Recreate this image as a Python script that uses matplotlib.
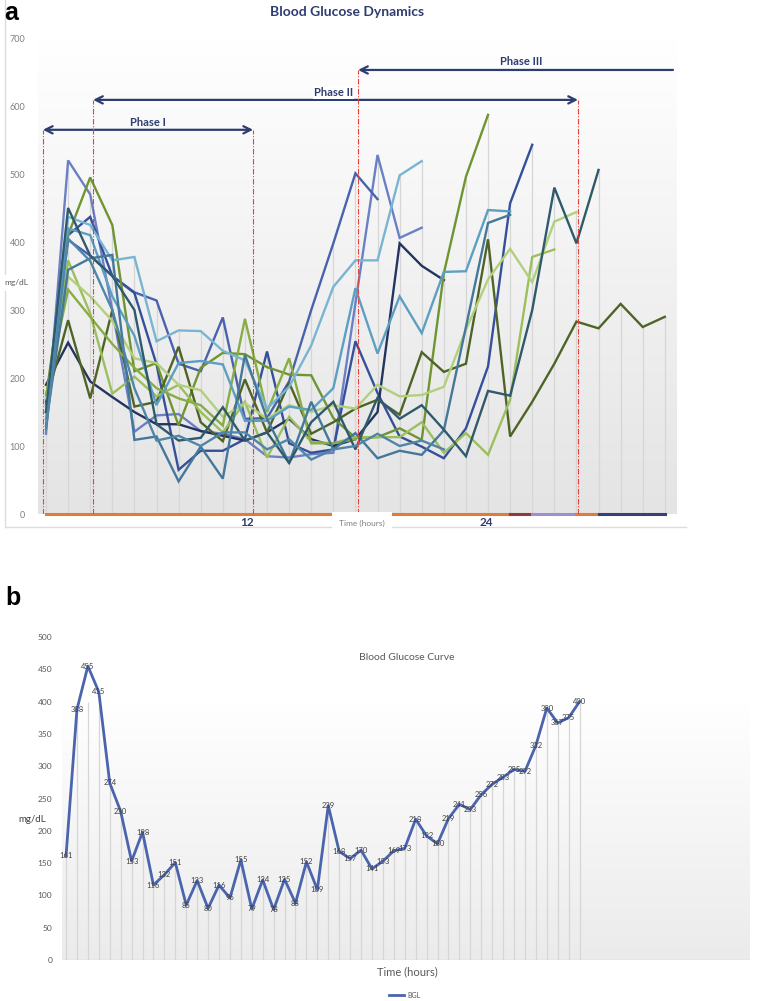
#Blood glucose figure: panel a = many patients, panel b = single curve
import numpy as np
import matplotlib.pyplot as plt
from matplotlib.colors import LinearSegmentedColormap
from matplotlib.lines import Line2D

plt.rcParams['font.family'] = ['Lato', 'DejaVu Sans']

#panel a data (hourly readings, mg/dL), one list per patient
periwinkle = [118, 520, 470, 300, 121, 145, 147, 122, 118, 110, 85, 83, 88, 90, 310, 528, 406, 421]
blue = [160, 403, 380, 350, 326, 314, 221, 210, 289, 140, 141, 195, 300, 398, 501, 463]
royal = [150, 410, 437, 350, 325, 220, 65, 93, 93, 110, 239, 104, 90, 95, 254, 178, 114, 99, 82, 126, 217, 457, 543]
navy = [190, 252, 195, 172, 150, 132, 132, 122, 115, 108, 120, 140, 110, 100, 110, 150, 398, 365, 344]
olive = [170, 410, 495, 425, 210, 222, 130, 215, 237, 235, 216, 205, 204, 141, 112, 113, 126, 109, 354, 496, 587]
darkolive = [165, 285, 170, 300, 158, 165, 246, 135, 107, 198, 120, 193, 118, 135, 155, 168, 146, 238, 209, 221,
             404, 114, 165, 221, 283, 273, 309, 275, 290]
lightgreen = [150, 373, 295, 177, 202, 173, 190, 150, 120, 165, 83, 143, 106, 104, 113, 113, 113, 135, 90, 119,
              87, 168, 378, 389]
lime = [170, 349, 320, 284, 229, 222, 190, 182, 143, 163, 140, 160, 150, 160, 155, 190, 173, 175, 187, 271,
        345, 390, 341, 430, 444]
yellowgreen = [175, 330, 290, 250, 215, 185, 170, 160, 130, 287, 150, 229, 104, 104, 110]
lightblue = [150, 437, 425, 373, 378, 254, 270, 269, 240, 226, 155, 187, 248, 334, 373, 373, 498, 519]
skyblue = [140, 420, 410, 320, 262, 160, 222, 225, 220, 137, 137, 158, 153, 185, 332, 236, 320, 266, 356, 357, 447, 445]
steel = [130, 359, 376, 381, 109, 114, 48, 99, 52, 234, 140, 75, 165, 95, 119, 82, 93, 87, 123, 275, 428, 440]
teal = [150, 450, 380, 350, 300, 132, 108, 112, 157, 108, 120, 75, 135, 165, 95, 171, 140, 160, 124, 85,
        181, 174, 300, 480, 398, 506]
denim = [125, 405, 372, 300, 185, 108, 115, 100, 120, 120, 95, 110, 80, 95, 100, 118, 100, 108, 95]

series_a = [(periwinkle, '#6b80c4'), (blue, '#4862ad'), (royal, '#34509a'), (navy, '#23345f'),
            (olive, '#6f9432'), (darkolive, '#4e6426'), (lightgreen, '#9cbf5e'), (lime, '#b2cf7c'),
            (yellowgreen, '#88ad45'), (lightblue, '#78b5d2'), (skyblue, '#5c9fc2'), (steel, '#44789a'),
            (teal, '#2f5a6c'), (denim, '#4f86a8')]
n_hours = 29
hour_labels = ['12', '24']

#panel b data
bgl = [161, 388, 455, 415, 274, 230, 153, 198, 116, 132, 151, 85, 123, 80, 116, 96, 155, 79, 124, 78,
       125, 88, 152, 109, 239, 168, 157, 170, 141, 153, 169, 173, 218, 192, 180, 219, 241, 233, 256, 272,
       283, 295, 292, 332, 390, 367, 375, 400]

W, H = 761, 1001
def fx(px):
    return px / W
def fy(py):
    return 1 - py / H

fig = plt.figure(figsize=(W / 100, H / 100), dpi=100)

#---------------- panel a ----------------
axa = fig.add_axes([fx(38), fy(514), (677 - 38) / W, (514 - 38) / H])
xlo, xhi = -0.362, 28.55
axa.set_xlim(xlo, xhi)
axa.set_ylim(0, 700)

grad = LinearSegmentedColormap.from_list('g', ['#e4e4e4', '#ffffff'])
axa.imshow(np.linspace(0, 1, 256).reshape(-1, 1), extent=[xlo, xhi, 0, 700], origin='lower',
           aspect='auto', cmap=grad, zorder=0)

hours = np.arange(n_hours)
table = np.full((len(series_a), n_hours), np.nan)
for k, (vals, col) in enumerate(series_a):
    table[k, :len(vals)] = vals
tops = np.nanmax(table, axis=0)
axa.vlines(hours, 0, tops, colors='#d6d6d6', lw=0.9, zorder=1)

for k, (vals, col) in enumerate(series_a):
    axa.plot(hours, table[k], color=col, lw=1.7, zorder=3, solid_joinstyle='miter')

#flat series at zero along the axis
zero_parts = [(0, 21, '#e07b39'), (21, 22, '#8e3b3b'), (22, 24, '#9d8fd0'), (24, 25, '#e07b39'), (25, 28, '#3b3f78')]
for a, b, col in zero_parts:
    axa.plot([a, b], [0, 0], color=col, lw=2.2, zorder=4, clip_on=False)

#phase markers
red = '#e8413c'
arrow_col = '#2e3d70'
phase_lines = [(-0.14, 565), (2.13, 609), (9.37, 565), (14.12, 653), (24.07, 609)]
for x, top in phase_lines:
    axa.plot([x, x], [0, top], color=red, lw=0.8, ls=(0, (5, 1.5, 1, 1.5)), zorder=5)

axa.annotate('', xy=(9.37, 565), xytext=(-0.14, 565),
             arrowprops=dict(arrowstyle='<->', color=arrow_col, lw=1.6, shrinkA=0, shrinkB=0, mutation_scale=13))
axa.annotate('', xy=(24.07, 609), xytext=(2.13, 609),
             arrowprops=dict(arrowstyle='<->', color=arrow_col, lw=1.6, shrinkA=0, shrinkB=0, mutation_scale=13))
axa.annotate('', xy=(14.12, 653), xytext=(28.37, 653),
             arrowprops=dict(arrowstyle='->', color=arrow_col, lw=1.6, shrinkA=0, shrinkB=0, mutation_scale=13))
axa.text(4.6, 576, 'Phase I', ha='center', va='center', fontsize=8, fontweight='bold', color=arrow_col, zorder=6)
axa.text(13.0, 620, 'Phase II', ha='center', va='center', fontsize=8, fontweight='bold', color=arrow_col, zorder=6,
         bbox=dict(facecolor='white', edgecolor='none', pad=0.5))
axa.text(21.5, 665, 'Phase III', ha='center', va='center', fontsize=8, fontweight='bold', color=arrow_col, zorder=6)

axa.set_yticks(range(0, 701, 100))
axa.tick_params(axis='y', length=0, pad=9, labelsize=6.5, labelcolor='#7f7f7f')
axa.set_xticks([])
for s in axa.spines.values():
    s.set_visible(False)

for lab, px in zip(hour_labels, [247, 486]):
    fig.text(fx(px), fy(523), lab, ha='center', va='center', fontsize=8.5, fontweight='bold', color='#2e3d70')

fig.add_artist(Line2D([fx(5), fx(5)], [fy(0), fy(527)], color='#dcdcdc', lw=1))
fig.add_artist(Line2D([fx(5), fx(686)], [fy(527), fy(527)], color='#dcdcdc', lw=1))
fig.text(fx(362), fy(523), 'Time (hours)', ha='center', va='center', fontsize=6, color='#7f7f7f', zorder=5,
         bbox=dict(facecolor='white', edgecolor='none', pad=5))
fig.text(fx(16), fy(283), 'mg/dL', ha='center', va='center', fontsize=6, color='#595959',
         bbox=dict(facecolor='white', edgecolor='none', pad=3))
fig.text(fx(347), fy(12), 'Blood Glucose Dynamics', ha='center', va='center', fontsize=10, fontweight='bold',
         color='#2e3d70')
fig.text(fx(4), fy(13), 'a', ha='left', va='center', fontsize=18, fontweight='bold',
         family=['Liberation Sans', 'DejaVu Sans'])

#---------------- panel b ----------------
axb = fig.add_axes([fx(62), fy(960), (750 - 62) / W, (960 - 637) / H])
bxlo, bxhi = -0.37, 62.6
axb.set_xlim(bxlo, bxhi)
axb.set_ylim(0, 500)
gradb = LinearSegmentedColormap.from_list('gb', ['#ebebeb', '#ffffff'])
axb.imshow(np.linspace(0, 1, 256).reshape(-1, 1), extent=[bxlo, bxhi, 0, 400], origin='lower',
           aspect='auto', cmap=gradb, zorder=0)
xb = np.arange(len(bgl))
axb.vlines(xb, 0, np.minimum(bgl, 400), colors='#d6d6d6', lw=0.9, zorder=1)
axb.axhline(0, color='#d6d6d6', lw=1, zorder=1)
line_b, = axb.plot(xb, bgl, color='#4a64ad', lw=2, zorder=3, label='BGL')
for x, v in zip(xb, bgl):
    axb.text(x, v, str(v), ha='center', va='center', fontsize=5.5, color='#404040', zorder=4)

axb.set_yticks(range(0, 501, 50))
axb.tick_params(axis='y', length=0, pad=7, labelsize=6, labelcolor='#595959')
axb.set_xticks([])
for s in axb.spines.values():
    s.set_visible(False)

fig.text(fx(407), fy(658), 'Blood Glucose Curve', ha='center', va='center', fontsize=7.5, color='#595959')
fig.text(fx(407), fy(972), 'Time (hours)', ha='center', va='center', fontsize=8, color='#595959')
fig.text(fx(32), fy(820), 'mg/dL', ha='center', va='center', fontsize=7, color='#404040')
fig.legend(handles=[line_b], loc='center', bbox_to_anchor=(fx(405), fy(995)), frameon=False,
           fontsize=5, handlelength=2.2, handletextpad=0.5, labelcolor='#595959')
fig.text(fx(5), fy(598), 'b', ha='left', va='center', fontsize=18, fontweight='bold',
         family=['Liberation Sans', 'DejaVu Sans'])

fig.savefig('out.png', dpi=100)
